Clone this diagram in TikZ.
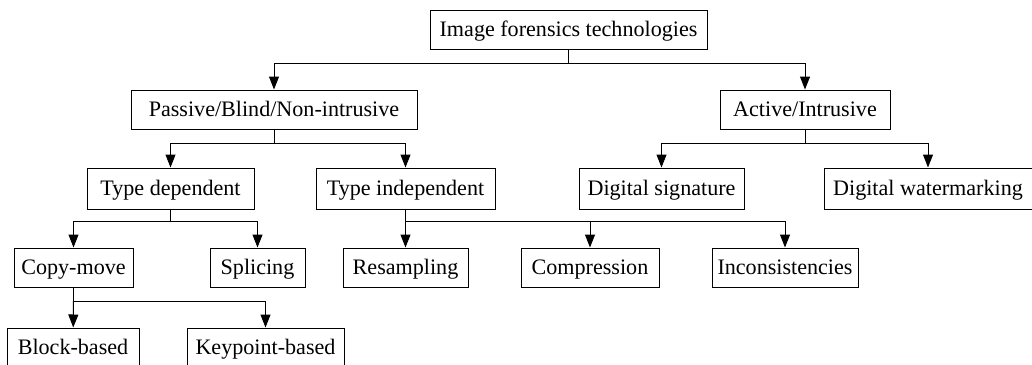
\documentclass[tikz,border=0pt]{standalone}
\usepackage{fontspec}
\setmainfont{Liberation Serif}
\usetikzlibrary{arrows.meta}

\begin{document}
\begin{tikzpicture}[x=1pt,y=-1pt,>={Triangle[length=13pt,width=10pt]},line width=1pt,
    box/.style={draw,minimum height=39pt,inner sep=0pt,text height=16pt,text depth=2.6pt,
        font=\fontsize{22.1}{26}\selectfont}]

                \useasboundingbox (0,0) rectangle (1032,364);

                \node[box,minimum width=277pt] (root) at (568.5,30) {Image forensics technologies};

                \node[box,minimum width=286pt] (passive) at (274,109.5) {Passive/Blind/Non-intrusive};

                \node[box,minimum width=170pt] (active) at (805,109.5) {Active/Intrusive};

                \node[box,minimum width=167pt,minimum height=41pt] (typedep) at (170.5,188.5) {Type dependent};

                \node[box,minimum width=179pt,minimum height=41pt] (typeindep) at (405.5,188.5) {Type independent};

                \node[box,minimum width=165pt,minimum height=41pt] (digsig) at (661.5,188.5) {Digital signature};

                \node[box,minimum width=208pt,minimum height=41pt] (digwat) at (928,188.5) {Digital watermarking};

                \node[box,minimum width=119pt] (copymove) at (73.5,267.5) {Copy-move};

                \node[box,minimum width=95pt] (splicing) at (257.5,267.5) {Splicing};

                \node[box,minimum width=125pt] (resampling) at (405.5,267.5) {Resampling};

                \node[box,minimum width=138pt] (compression) at (590,267.5) {Compression};

                \node[box,minimum width=146pt] (inconsist) at (785,267.5) {Inconsistencies};

                \node[box,minimum width=132pt] (blockbased) at (73,347.5) {Block-based};

                \node[box,minimum width=157pt] (keypoint) at (265.5,347.5) {Keypoint-based};

                

                % branch points
                \coordinate (j1) at (root.south |- 0,63);
                \coordinate (j2) at (passive.south |- 0,143);
                \coordinate (j3) at (active.south |- 0,143);
                \coordinate (j4) at (typedep.south |- 0,221);
                \coordinate (j5) at (typeindep.south |- 0,221);
                \coordinate (j6) at (copymove.south |- 0,301);

                \draw (root) -- (j1);
                \draw[->] (j1) -| (passive);
                \draw[->] (j1) -| (active);

                \draw (passive) -- (j2);
                \draw[->] (j2) -| (typedep);
                \draw[->] (j2) -| (typeindep);

                \draw (active) -- (j3);
                \draw[->] (j3) -| (digsig);
                \draw[->] (j3) -| (digwat);

                \draw (typedep) -- (j4);
                \draw[->] (j4) -| (copymove);
                \draw[->] (j4) -| (splicing);

                \draw[->] (typeindep) -- (resampling);
                \draw[->] (j5) -| (compression);
                \draw[->] (j5) -| (inconsist);

                \draw (copymove) -- (j6);
                \draw[->] (j6) -- (blockbased);
                \draw[->] (j6) -| (keypoint);

            \end{tikzpicture}
\end{document}
